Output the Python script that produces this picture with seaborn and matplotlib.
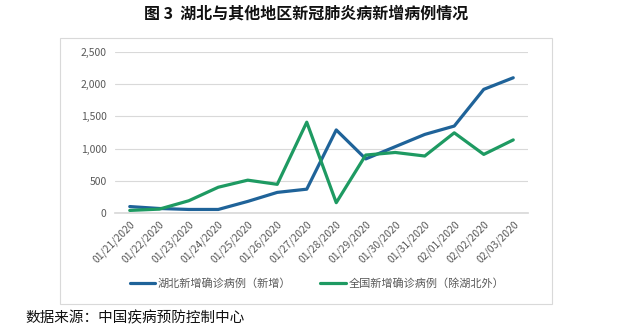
import matplotlib
matplotlib.use("Agg")
import matplotlib.pyplot as plt
import seaborn as sns
import pandas as pd
from matplotlib.patches import Rectangle

dates = ["01/21/2020", "01/22/2020", "01/23/2020", "01/24/2020", "01/25/2020",
         "01/26/2020", "01/27/2020", "01/28/2020", "01/29/2020", "01/30/2020",
         "01/31/2020", "02/01/2020", "02/02/2020", "02/03/2020"]
hubei = [100, 70, 55, 55, 180, 320, 370, 1290, 840, 1030, 1220, 1350, 1920, 2100]
others = [40, 60, 190, 400, 510, 445, 1410, 160, 900, 940, 885, 1245, 910, 1135]
series_names = ["湖北新增确诊病例（新增）", "全国新增确诊病例（除湖北外）"]
colors = ["#1f6399", "#1e9a62"]
yticks = [0, 500, 1000, 1500, 2000, 2500]

sns.set_theme(style="white")
plt.rcParams['font.family'] = ['Noto Sans CJK SC', 'DejaVu Sans']

df = pd.DataFrame({
    "date": dates * 2,
    "value": hubei + others,
    "series": [series_names[0]] * len(dates) + [series_names[1]] * len(dates),
})
df["x"] = list(range(len(dates))) * 2

fig = plt.figure(figsize=(6.19, 3.28), dpi=100)
fig.patch.set_facecolor("white")
fig.patches.append(Rectangle((60/619, 1-304/328), (552-60)/619, (304-38)/328,
                             transform=fig.transFigure, fill=False,
                             edgecolor="#d9d9d9", linewidth=0.8))

ax = fig.add_axes([115/619, 1-213/328, (528-115)/619, (213-52)/328])
sns.lineplot(data=df, x="x", y="value", hue="series", palette=colors,
             linewidth=2.3, ax=ax, legend=True)

ax.set_xlim(-0.5, len(dates) - 0.5)
ax.set_ylim(0, 2500)
ax.set_yticks(yticks)
ax.set_yticklabels([f"{v:,}" for v in yticks], fontsize=7.5, color="#595959")
ax.set_xticks(range(len(dates)))
ax.set_xticklabels(dates, rotation=45, ha="right", rotation_mode="anchor",
                   fontsize=7.5, color="#595959")
ax.set_xlabel("")
ax.set_ylabel("")
ax.grid(axis="y", color="#d9d9d9", linewidth=0.8)
for s in ["top", "right", "left"]:
    ax.spines[s].set_visible(False)
ax.spines["bottom"].set_color("#d9d9d9")
ax.tick_params(axis="y", length=0, pad=6)
ax.tick_params(axis="x", length=0, pad=4)

handles, labels = ax.get_legend_handles_labels()
ax.legend(handles, labels, loc="center", bbox_to_anchor=(317/619, 1-284/328),
          bbox_transform=fig.transFigure, ncol=2, frameon=False,
          fontsize=8, labelcolor="#595959", handlelength=2.3, columnspacing=2.6,
          handletextpad=0.25)

fig.text(306/619, 1-14/328, "图 3  湖北与其他地区新冠肺炎病新增病例情况",
         ha="center", va="center", fontsize=11.5, fontweight="bold", color="#111111")
fig.text(25/619, 1-318/328, "数据来源：中国疾病预防控制中心",
         ha="left", va="center", fontsize=10.5, color="#111111")

fig.savefig("out.png", dpi=100, facecolor="white")
